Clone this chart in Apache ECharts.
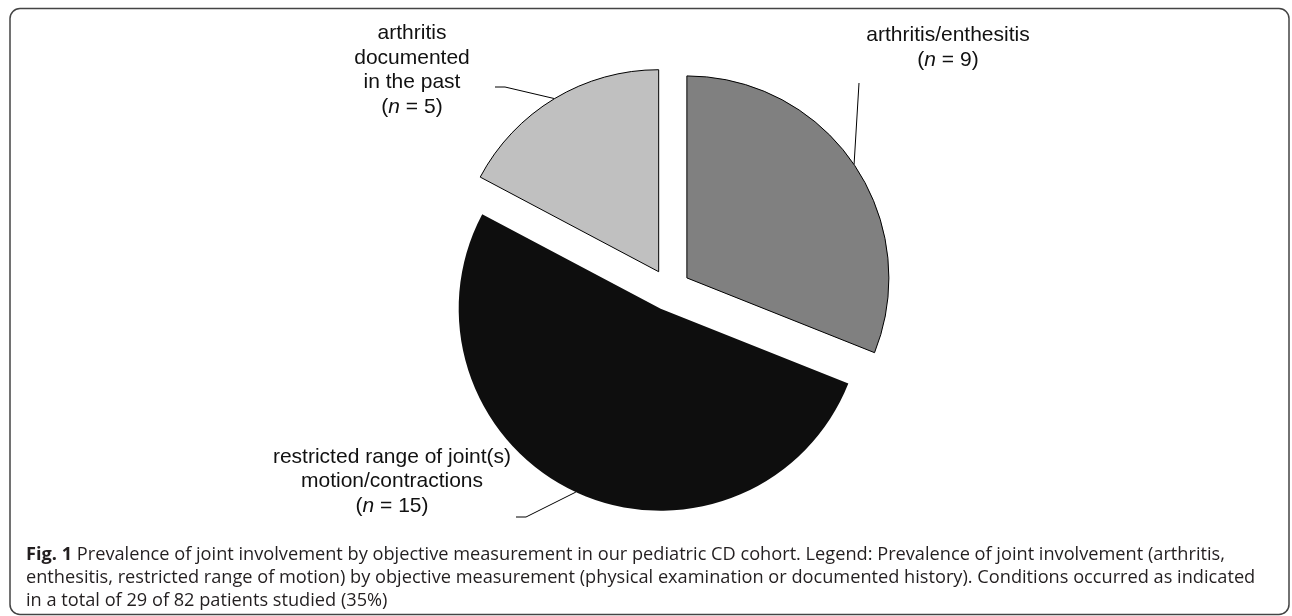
<!DOCTYPE html>
<html>
<head>
<meta charset="utf-8">
<script src="https://cdn.jsdelivr.net/npm/echarts@6/dist/echarts.min.js"></script>
<style>
  html, body { margin: 0; padding: 0; background: #fff; }
  #chart { width: 1292px; height: 616px; }
</style>
</head>
<body>
<div id="chart"></div>
<script>
// ---- data ----
const categories = [
  'arthritis/enthesitis',
  'restricted range of joint(s) motion/contractions',
  'arthritis documented in the past'
];
const counts = [9, 15, 5];
const labelTextLines = [
  ['arthritis/enthesitis'],
  ['restricted range of joint(s)', 'motion/contractions'],
  ['arthritis', 'documented', 'in the past']
];
const captionLines = [
  'Prevalence of joint involvement by objective measurement in our pediatric CD cohort. Legend: Prevalence of joint involvement (arthritis,',
  'enthesitis, restricted range of motion) by objective measurement (physical examination or documented history). Conditions occurred as indicated',
  'in a total of 29 of 82 patients studied (35%)'
];
const captionLead = 'Fig. 1';

// ---- styles / layout ----
const sliceColors = ['#808080', '#0e0e0e', '#c0c0c0'];
const sliceBorders = [1, 0, 1];
const pieCenter = [669.5, 289.7];
const pieRadius = 202;
const explode = 21;
// label block centres and leader-line points relative to them
const labelSpots = [
  { x: 948, y: 47.5, line: [[-89, 35.5], [-89, 35.5]] },
  { x: 392, y: 481.5, line: [[134, 35.5], [124, 35.5]] },
  { x: 412, y: 70, line: [[93, 17], [83, 17]] }
];

const total = counts.reduce((a, b) => a + b, 0);
let cum = 0;
const midAngles = counts.map(v => { const m = (cum + v / 2) / total * 2 * Math.PI; cum += v; return m; });

const labelFont = { fontFamily: '"Liberation Sans", Arial, sans-serif', fontSize: 21, lineHeight: 24.5, color: '#111' };

function labelFormatter(i) {
  return labelTextLines[i].join('\n') + '\n{t|(}{i|n}{t| = ' + counts[i] + ')}';
}

const series = counts.map((_, i) => {
  const c = [pieCenter[0] + explode * Math.sin(midAngles[i]), pieCenter[1] - explode * Math.cos(midAngles[i])];
  return {
    type: 'pie',
    center: c,
    radius: pieRadius,
    startAngle: 90,
    clockwise: true,
    silent: true,
    avoidLabelOverlap: false,
    padAngle: 0,
    emphasis: { disabled: true },
    animation: false,
    z: 2 + i,
    label: Object.assign({
      show: false,
      position: 'outside',
      align: 'center',
      formatter: () => labelFormatter(i),
      rich: {
        t: Object.assign({}, labelFont),
        i: Object.assign({}, labelFont, { fontStyle: 'italic' })
      }
    }, labelFont),
    labelLine: { show: false, lineStyle: { color: '#000', width: 1 }, length: 20, length2: 10 },
    labelLayout: function (params) {
      if (params.dataIndex !== i) return {};
      const s = labelSpots[i];
      let p0 = params.labelLinePoints && params.labelLinePoints[0];
      if (!p0) p0 = [c[0] + pieRadius * Math.sin(midAngles[i]), c[1] - pieRadius * Math.cos(midAngles[i])];
      return {
        x: s.x, y: s.y, align: 'center', verticalAlign: 'middle',
        labelLinePoints: [p0].concat(s.line.map(d => [s.x + d[0], s.y + d[1]]))
      };
    },
    data: counts.map((v, j) => ({
      name: categories[j],
      value: v,
      itemStyle: j === i
        ? { color: sliceColors[j], borderColor: '#000', borderWidth: sliceBorders[j], borderRadius: 0 }
        : { color: 'rgba(0,0,0,0)', borderWidth: 0, borderRadius: 0 },
      label: { show: j === i },
      labelLine: { show: j === i }
    }))
  };
});

const chart = echarts.init(document.getElementById('chart'), null, { renderer: 'canvas' });
chart.setOption({
  backgroundColor: '#fff',
  animation: false,
  title: {
    text: '{b|' + captionLead + '} ' + captionLines.join('\n'),
    left: 26,
    top: 543,
    padding: 0,
    textStyle: {
      fontFamily: '"Open Sans", sans-serif',
      fontSize: 18.2,
      fontWeight: 'normal',
      color: '#231f20',
      lineHeight: 23,
      rich: {
        b: { fontFamily: '"Open Sans", sans-serif', fontSize: 18.2, fontWeight: 'bold', color: '#231f20', lineHeight: 23 }
      }
    }
  },
  graphic: [{
    type: 'rect',
    silent: true,
    shape: { x: 10, y: 8.5, width: 1279, height: 606, r: 10 },
    style: { fill: 'none', stroke: '#444', lineWidth: 1.5 }
  }],
  series: series
});
</script>
</body>
</html>
